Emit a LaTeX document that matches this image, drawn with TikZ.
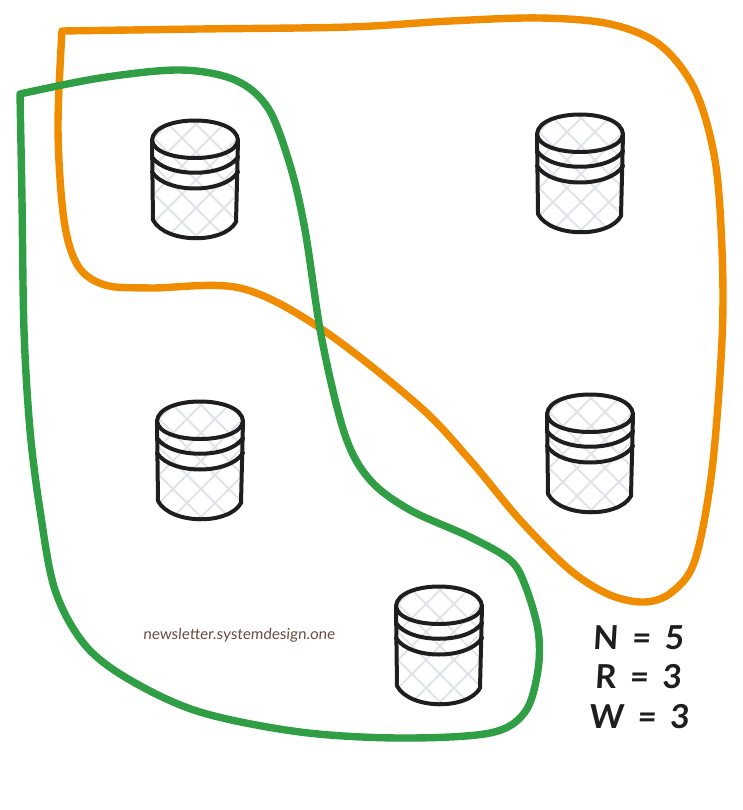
\documentclass[tikz,border=0pt]{standalone}
\usepackage{fontspec}
\setmainfont{Lato}
\newfontfamily\handfont[FakeSlant=0.08]{Lato}
\newfontfamily\formulafont[FakeSlant=0.06,WordSpace=1.7]{Lato}
\definecolor{orangeloop}{HTML}{F08C00}
\definecolor{greenloop}{HTML}{2F9E44}
\definecolor{hatch}{HTML}{DFE4EA}
\definecolor{inkline}{HTML}{1E1E1E}
\definecolor{mark}{HTML}{6B4A42}
\tikzset{
  loop/.style={line width=7.4pt,line cap=round,line join=round},
  dbline/.style={inkline,line width=4pt,line cap=round,line join=round},
  hatchline/.style={hatch,line width=1.8pt},
  formula/.style={font=\formulafont\bfseries\fontsize{33}{33}\selectfont,text=inkline,anchor=center,inner sep=0pt},
  pics/dbcyl/.style={code={
    \begin{scope}
      \clip (0,20) .. controls (8,-5) and (78,-5) .. (86,20) -- (85,102) .. controls (70,124) and (15,124) .. (1,102) -- cycle;
      \foreach \d in {-100,-72,...,100} {
        \draw[hatchline] (\d,0) -- (\d+120,120);
        \draw[hatchline] (\d+120,0) -- (\d,120);
      }
    \end{scope}
    \draw[dbline] (0,20) .. controls (2,-6) and (84,-6) .. (86,20) .. controls (84,44) and (2,44) .. (0,20) -- cycle;
    \draw[dbline] (0,20) -- (1,100) .. controls (14,124) and (72,124) .. (84,102) -- (86,20);
    \draw[dbline] (0,37) .. controls (14,58) and (72,58) .. (86,37);
    \draw[dbline] (0,52) .. controls (14,74) and (72,74) .. (86,52);
  }}
}
\begin{document}
\begin{tikzpicture}[x=1pt,y=-1pt]
\useasboundingbox (0,0) rectangle (742,810);
\pic at (152,120) {dbcyl};
\pic at (537,114) {dbcyl};
\pic at (157,401) {dbcyl};
\pic at (547,394) {dbcyl};
\pic at (396,586) {dbcyl};
\draw[loop,orangeloop] plot[smooth,tension=0.55] coordinates {(62,31) (200,29) (350,27) (450,21) (540,18) (610,24) (660,45) (695,90) (715,160) (722,250) (722,340) (712,470) (695,560) (672,592) (645,602) (610,595) (570,570) (520,520) (470,460) (418,405) (320,328) (240,288) (150,288) (105,285) (78,266) (64,220) (58,130) (62,31)};
\draw[loop,greenloop] plot[smooth,tension=0.55] coordinates {(20,94) (100,78) (180,70) (235,80) (268,108) (290,165) (305,230) (322,340) (345,435) (370,480) (410,510) (470,537) (510,560) (525,585) (538,630) (538,670) (525,712) (490,733) (400,738) (300,732) (200,712) (130,680) (85,645) (55,590) (40,510) (30,430) (24,330) (22,200) (20,94)};
\node[inner sep=0pt,text=mark,font=\handfont\fontsize{15.2}{15}\selectfont] (credit) at (239,635) {newsletter.systemdesign.one};
\node[formula] (nline) at (638,638) {N = 5};
\node[formula] (rline) at (638,677) {R = 3};
\node[formula] (wline) at (639,717) {W = 3};
\end{tikzpicture}
\end{document}
